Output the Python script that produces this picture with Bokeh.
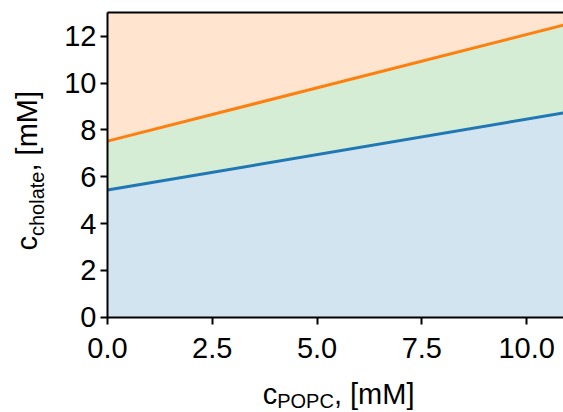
from bokeh.plotting import figure
from bokeh.models import (Range1d, FixedTicker, PrintfTickFormatter, LinearAxis, Label)
from bokeh.embed import file_html
from bokeh.resources import INLINE
import math

# ---- data ----
c_popc = [0.0, 11.0]
cholate_lower = [5.43, 8.76]   # blue boundary
cholate_upper = [7.52, 12.53]  # orange boundary
y_max = 13.0
x_max = 10.88
x_ticks = [0.0, 2.5, 5.0, 7.5, 10.0]
y_ticks = [0, 2, 4, 6, 8, 10, 12]

W, H = 563, 412
# plot area in canvas pixels
PL, PR, PT, PB = 107.0, 563.0, 12.3, 316.7

FONT = "Liberation Sans"
TICK_SIZE = "29px"
MAIN = "29px"
SUB = "20px"

sx = (PR - PL) / x_max
sy = (PB - PT) / y_max
x_range = Range1d(-PL / sx, x_max + (W - PR) / sx)
y_range = Range1d(-(H - PB) / sy, y_max + PT / sy)

p = figure(width=W, height=H, output_backend="svg", toolbar_location=None,
           x_range=x_range, y_range=y_range, x_axis_type=None, y_axis_type=None,
           min_border=0)
p.outline_line_color = None
p.grid.visible = False
p.background_fill_color = "white"
p.border_fill_color = "white"

zeros = [0.0 for _ in c_popc]
tops = [y_max for _ in c_popc]
p.varea(x=c_popc, y1=zeros, y2=cholate_lower, fill_color="#1f77b4", fill_alpha=0.2)
p.varea(x=c_popc, y1=cholate_lower, y2=cholate_upper, fill_color="#2ca02c", fill_alpha=0.2)
p.varea(x=c_popc, y1=cholate_upper, y2=tops, fill_color="#ff7f0e", fill_alpha=0.2)
p.line(c_popc, cholate_lower, line_color="#1f77b4", line_width=3)
p.line(c_popc, cholate_upper, line_color="#ff7f0e", line_width=3)

def style(ax):
    ax.axis_line_width = 2
    ax.axis_line_color = "black"
    ax.major_tick_line_width = 2
    ax.major_tick_out = 7
    ax.major_tick_in = 0
    ax.minor_tick_out = 0
    ax.minor_tick_in = 0
    ax.major_label_text_font = FONT
    ax.major_label_text_font_size = TICK_SIZE
    ax.major_label_text_color = "black"

xaxis = LinearAxis(ticker=FixedTicker(ticks=x_ticks),
                   formatter=PrintfTickFormatter(format="%.1f"),
                   fixed_location=0, bounds=(0, x_max))
style(xaxis)
xaxis.major_label_standoff = 14
p.add_layout(xaxis, "below")

yaxis = LinearAxis(ticker=FixedTicker(ticks=y_ticks), fixed_location=0, bounds=(0, y_max))
style(yaxis)
yaxis.major_label_standoff = 4
p.add_layout(yaxis, "left")

topaxis = LinearAxis(ticker=FixedTicker(ticks=[]), fixed_location=y_max, bounds=(0, x_max),
                     axis_line_width=2, major_label_text_font_size="0px",
                     major_tick_out=0, major_tick_in=0, minor_tick_out=0, minor_tick_in=0)
p.add_layout(topaxis, "above")

def lab(text, cx, cy, size, angle=0.0):
    # cx, cy: canvas position (from top-left) of the text anchor
    p.add_layout(Label(x=cx, y=H - cy, x_units="screen", y_units="screen", text=text,
                       text_font=FONT, text_font_size=size, text_color="black",
                       text_align="left", text_baseline="alphabetic", angle=angle))

# x axis label: c_POPC, [mM]
lab("c", 262.2, 393.0, MAIN)
lab("POPC", 276.7, 400.6, SUB)
lab(", [mM]", 333.4, 393.0, MAIN)

# y axis label: c_cholate, [mM]
a = math.pi / 2
lab("c", 26.0, 250.0, MAIN, a)
lab("cholate", 36.0, 235.5, SUB, a)
lab(", [mM]", 26.0, 171.0, MAIN, a)

open("out.html", "w").write(file_html(p, INLINE))
